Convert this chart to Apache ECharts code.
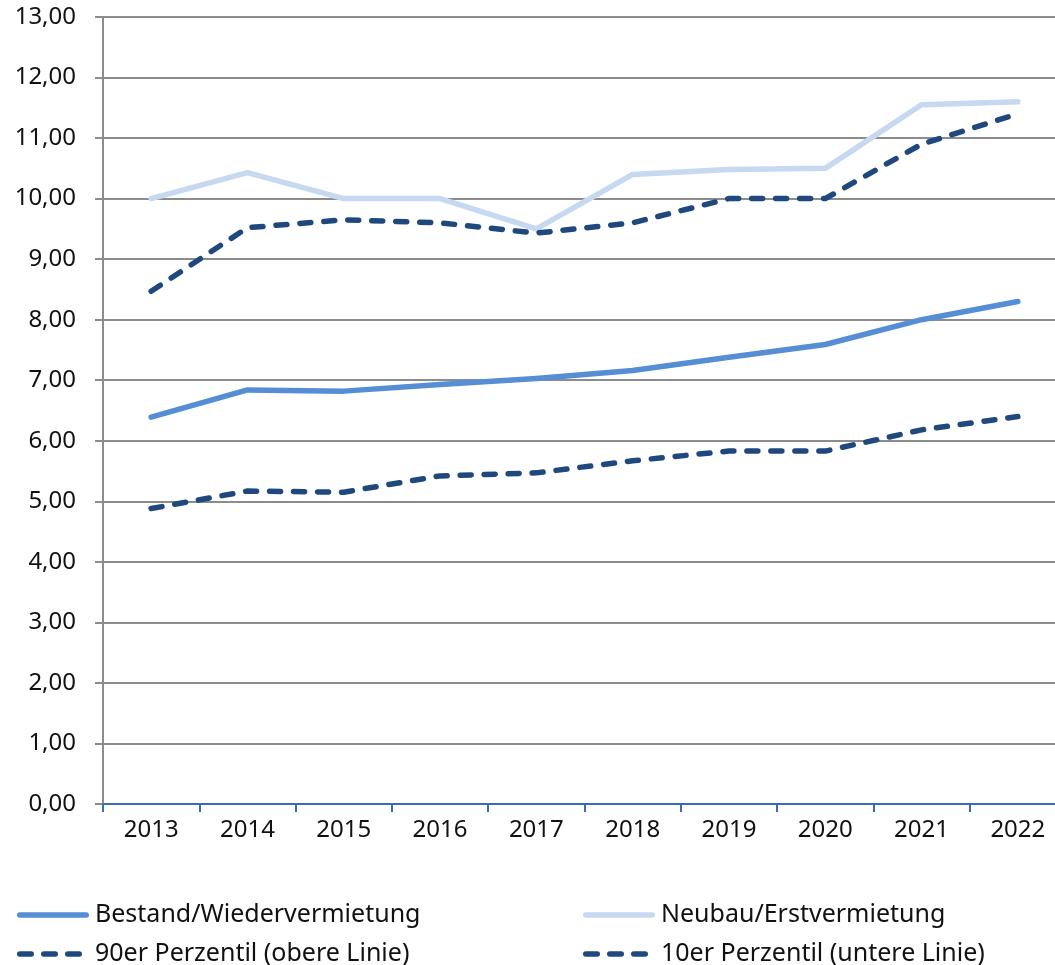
<!DOCTYPE html>
<html>
<head>
<meta charset="utf-8">
<script src="https://cdn.jsdelivr.net/npm/echarts@6/dist/echarts.min.js"></script>
<style>
html,body{margin:0;padding:0;background:#fff;}
#chart{width:1055px;height:965px;}
</style>
</head>
<body>
<div id="chart"></div>
<script>
const categories = ['2013','2014','2015','2016','2017','2018','2019','2020','2021','2022'];
const bestand = [6.39, 6.84, 6.82, 6.93, 7.03, 7.16, 7.38, 7.59, 8.00, 8.30];
const neubau = [10.00, 10.43, 10.00, 10.00, 9.50, 10.40, 10.48, 10.50, 11.55, 11.60];
const p90 = [8.47, 9.52, 9.65, 9.60, 9.43, 9.60, 10.00, 10.00, 10.90, 11.40];
const p10 = [4.88, 5.17, 5.15, 5.42, 5.47, 5.67, 5.83, 5.83, 6.18, 6.40];
const names = ['Bestand/Wiedervermietung','Neubau/Erstvermietung','90er Perzentil (obere Linie)','10er Perzentil (untere Linie)'];

const FONT = 'Noto Sans';
const chart = echarts.init(document.getElementById('chart'));
const textStyle = {fontFamily: FONT, fontSize: 24, color: '#111'};
const dashed = (c) => ({color: c, width: 5.5, type: [11, 13], cap: 'round', join: 'round'});
const solid = (c) => ({color: c, width: 5.5, cap: 'round', join: 'round'});

const ICON_SOLID = 'path://M2.75,0 H69.25 A2.75,2.75 0 0 1 69.25,5.5 H2.75 A2.75,2.75 0 0 1 2.75,0 Z';
const ICON_DASH = 'path://M2.75,0 H14.25 A2.75,2.75 0 0 1 14.25,5.5 H2.75 A2.75,2.75 0 0 1 2.75,0 Z ' +
  'M26.75,0 H38.25 A2.75,2.75 0 0 1 38.25,5.5 H26.75 A2.75,2.75 0 0 1 26.75,0 Z ' +
  'M50.75,0 H62.25 A2.75,2.75 0 0 1 62.25,5.5 H50.75 A2.75,2.75 0 0 1 50.75,0 Z';

function leg(name, left, top, icon, w, pad) {
  return {
    left: left, top: top, orient: 'horizontal', itemWidth: w, itemHeight: 5.5,
    selectedMode: false, padding: 0,
    textStyle: Object.assign({}, textStyle, {fontSize: 25, lineHeight: 28, padding: [0, 0, 0, pad]}),
    data: [{name: name, icon: icon}]
  };
}

chart.setOption({
  animation: false,
  textStyle: textStyle,
  grid: {left: 103, top: 17, width: 963, height: 787, containLabel: false, outerBoundsMode: 'none'},
  legend: [
    leg(names[0], 17, 901, ICON_SOLID, 72, 1),
    leg(names[2], 17, 940, ICON_DASH, 65, 8),
    leg(names[1], 583, 901, ICON_SOLID, 72, 1),
    leg(names[3], 583, 940, ICON_DASH, 65, 8)
  ],
  xAxis: {
    type: 'category', data: categories, boundaryGap: true,
    axisLine: {lineStyle: {color: '#3a6db5', width: 2}},
    axisTick: {show: true, length: 8, lineStyle: {color: '#3a6db5', width: 2}},
    axisLabel: {margin: 14, fontFamily: FONT, fontSize: 24, color: '#111'},
    splitLine: {show: false}
  },
  yAxis: {
    type: 'value', min: 0, max: 13, interval: 1,
    axisLine: {show: true, lineStyle: {color: '#8c8c8c', width: 2}},
    axisTick: {show: true, length: 8, lineStyle: {color: '#8c8c8c', width: 2}},
    axisLabel: {margin: 27, fontFamily: FONT, fontSize: 24, color: '#111',
      formatter: v => v.toFixed(2).replace('.', ',')},
    splitLine: {show: true, lineStyle: {color: '#8c8c8c', width: 2}}
  },
  series: [
    {name: names[0], type: 'line', data: bestand, symbol: 'none', lineStyle: solid('#558ed5'), itemStyle: {color: '#558ed5'}},
    {name: names[1], type: 'line', data: neubau, symbol: 'none', lineStyle: solid('#c6d9f1'), itemStyle: {color: '#c6d9f1'}},
    {name: names[2], type: 'line', data: p90, symbol: 'none', lineStyle: dashed('#1f497d'), itemStyle: {color: '#1f497d'}},
    {name: names[3], type: 'line', data: p10, symbol: 'none', lineStyle: dashed('#1f497d'), itemStyle: {color: '#1f497d'}}
  ]
});
</script>
</body>
</html>
